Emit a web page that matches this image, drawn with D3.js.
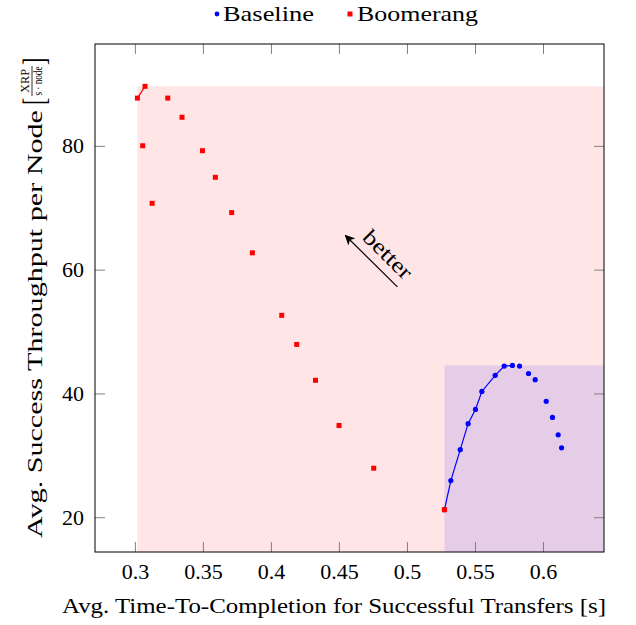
<!DOCTYPE html>
<html lang="en">
<head>
<meta charset="UTF-8">
<title>Baseline vs Boomerang</title>
<style>
    body {
        margin: 0;
        background: white;
    }

    svg text {
        font-family: "Liberation Serif", "DejaVu Serif", serif;
        fill: #000;
    }

    .tick-label {
        font-size: 22px;
    }

    .axis-label {
        font-size: 22px;
    }

    .legend-text {
        font-size: 22px;
    }

    .frac {
        font-size: 11.5px;
    }

    .tick {
        stroke: #808080;
        stroke-width: 1;
    }

    .frame {
        fill: none;
        stroke: #000;
        stroke-width: 1;
    }
</style>
</head>
<body>
<svg id="chart" width="636" height="625"></svg>

<script src="https://cdnjs.cloudflare.com/ajax/libs/d3/7.8.5/d3.min.js"></script>
<script>
    // data
    const baselineX = [0.5272, 0.5319, 0.5388, 0.5446, 0.5500, 0.5547, 0.5645, 0.5711, 0.5772, 0.5824, 0.5890, 0.5939, 0.6020, 0.6066, 0.6108, 0.6133];
    const baselineY = [21.3, 26.0, 31.0, 35.2, 37.5, 40.4, 43.0, 44.5, 44.6, 44.5, 43.3, 42.3, 38.8, 36.2, 33.4, 31.3];

    const boomerangX = [0.3015, 0.3071, 0.3054, 0.3238, 0.3123, 0.3343, 0.3493, 0.3588, 0.3708, 0.3860, 0.4076, 0.4186, 0.4324, 0.4497, 0.4752, 0.5272];
    const boomerangY = [87.8, 89.7, 80.1, 87.8, 70.8, 84.7, 79.3, 75.0, 69.3, 62.8, 52.7, 48.0, 42.2, 34.9, 28.0, 21.3];

    const xTicks = [0.3, 0.35, 0.4, 0.45, 0.5, 0.55, 0.6];
    const yTicks = [20, 40, 60, 80];

    const seriesNames = ["Baseline", "Boomerang"];
    const seriesColors = ["#0000ff", "#ff0000"];

    // "better" arrow, in data units
    const arrowFrom = [0.4926, 57.3];
    const arrowTo = [0.4544, 65.6];
    const arrowText = "better";

    const margin = { left: 95, right: 32, top: 44, bottom: 73 };
    const width = 636, height = 625;

    const svg = d3.select("#chart");

    const baseline = baselineX.map((x, i) => ({ x, y: baselineY[i] }));
    const boomerang = boomerangX.map((x, i) => ({ x, y: boomerangY[i] }));
    const all = baseline.concat(boomerang);

    // pgfplots style: enlarge limits by 10%
    function enlarged(vals) {
        const [lo, hi] = d3.extent(vals);
        const pad = (hi - lo) * 0.1;
        return [lo - pad, hi + pad];
    }

    const x = d3.scaleLinear()
        .domain(enlarged(all.map(d => d.x)))
        .range([margin.left, width - margin.right]);
    const y = d3.scaleLinear()
        .domain(enlarged(all.map(d => d.y)))
        .range([height - margin.bottom, margin.top]);

    const [x0, x1] = x.range();
    const [y0, y1] = y.range();

    // non dominated points (smaller x, larger y is better)
    function front(points) {
        const sorted = points.slice().sort((a, b) => a.x - b.x);
        const out = [];
        let best = -Infinity;
        sorted.forEach(p => {
            if (p.y > best) {
                out.push(p);
                best = p.y;
            }
        });
        return out;
    }

    const fronts = [front(baseline), front(boomerang)];

    svg.append("defs").append("clipPath").attr("id", "plot-clip")
        .append("rect")
        .attr("x", x0).attr("y", y1)
        .attr("width", x1 - x0).attr("height", y0 - y1);

    const plot = svg.append("g").attr("clip-path", "url(#plot-clip)");

    // dominated areas, boomerang first so the baseline one sits on top
    [1, 0].forEach(s => {
        const f = fronts[s];
        const left = x(d3.min(f, d => d.x));
        const top = y(d3.max(f, d => d.y));
        plot.append("rect")
            .attr("x", left)
            .attr("y", top)
            .attr("width", x1 - left)
            .attr("height", y0 - top)
            .attr("fill", seriesColors[s])
            .attr("fill-opacity", 0.1);
    });

    // ticks on all four sides, pointing inward
    const tickLen = 10;
    xTicks.forEach(t => {
        plot.append("line").attr("class", "tick")
            .attr("x1", x(t)).attr("x2", x(t))
            .attr("y1", y0).attr("y2", y0 - tickLen);
        plot.append("line").attr("class", "tick")
            .attr("x1", x(t)).attr("x2", x(t))
            .attr("y1", y1).attr("y2", y1 + tickLen);
        svg.append("text").attr("class", "tick-label")
            .attr("x", x(t)).attr("y", y0 + 27)
            .attr("text-anchor", "middle")
            .text(d3.format("")(t));
    });
    yTicks.forEach(t => {
        plot.append("line").attr("class", "tick")
            .attr("x1", x0).attr("x2", x0 + tickLen)
            .attr("y1", y(t)).attr("y2", y(t));
        plot.append("line").attr("class", "tick")
            .attr("x1", x1).attr("x2", x1 - tickLen)
            .attr("y1", y(t)).attr("y2", y(t));
        svg.append("text").attr("class", "tick-label")
            .attr("x", x0 - 11).attr("y", y(t) + 7)
            .attr("text-anchor", "end")
            .text(t);
    });

    // pareto lines
    const line = d3.line().x(d => x(d.x)).y(d => y(d.y));
    fronts.forEach((f, s) => {
        plot.append("path")
            .attr("d", line(f))
            .attr("fill", "none")
            .attr("stroke", seriesColors[s])
            .attr("stroke-width", 1.2);
    });

    // markers
    plot.selectAll(".pt-base").data(baseline).join("circle")
        .attr("cx", d => x(d.x))
        .attr("cy", d => y(d.y))
        .attr("r", 2.6)
        .attr("fill", seriesColors[0]);

    const sq = 5;
    plot.selectAll(".pt-boom").data(boomerang).join("rect")
        .attr("x", d => x(d.x) - sq / 2)
        .attr("y", d => y(d.y) - sq / 2)
        .attr("width", sq).attr("height", sq)
        .attr("fill", seriesColors[1]);

    // better arrow
    svg.select("defs").append("marker")
        .attr("id", "head")
        .attr("viewBox", "0 0 10 10")
        .attr("refX", 9).attr("refY", 5)
        .attr("markerWidth", 10).attr("markerHeight", 10)
        .attr("markerUnits", "userSpaceOnUse")
        .attr("orient", "auto")
        .append("path")
        .attr("d", "M0,0 L10,5 L0,10 L2.5,5 Z")
        .attr("fill", "#000");

    const ax1 = x(arrowFrom[0]), ay1 = y(arrowFrom[1]);
    const ax2 = x(arrowTo[0]), ay2 = y(arrowTo[1]);
    svg.append("line")
        .attr("x1", ax1).attr("y1", ay1)
        .attr("x2", ax2).attr("y2", ay2)
        .attr("stroke", "#000")
        .attr("stroke-width", 1.2)
        .attr("marker-end", "url(#head)");

    const ang = Math.atan2(ay1 - ay2, ax1 - ax2) * 180 / Math.PI;
    const mx = (ax1 + ax2) / 2, my = (ay1 + ay2) / 2;
    svg.append("text").attr("class", "axis-label")
        .attr("transform", `translate(${mx},${my}) rotate(${ang}) translate(7,-9)`)
        .attr("text-anchor", "middle")
        .attr("textLength", 60)
        .attr("lengthAdjust", "spacingAndGlyphs")
        .text(arrowText);

    // frame
    svg.append("rect").attr("class", "frame")
        .attr("x", x0).attr("y", y1)
        .attr("width", x1 - x0).attr("height", y0 - y1);

    // x label (stretched a bit to the width of the original serif face)
    svg.append("text").attr("class", "axis-label")
        .attr("x", 334).attr("y", 613)
        .attr("text-anchor", "middle")
        .attr("textLength", 544)
        .attr("lengthAdjust", "spacingAndGlyphs")
        .text("Avg. Time-To-Completion for Successful Transfers [s]");

    // y label with fraction unit
    const yl = svg.append("g");
    const mainW = 428;
    yl.append("text").attr("class", "axis-label")
        .attr("textLength", mainW)
        .attr("lengthAdjust", "spacingAndGlyphs")
        .text("Avg. Success Throughput per Node");
    let cx = mainW + 5;
    yl.append("text").attr("class", "axis-label")
        .attr("x", cx).attr("y", 3)
        .attr("transform", `translate(0,3) scale(1,1.45) translate(0,-3)`)
        .text("[");
    cx += 9;
    const fw = 30;
    yl.append("text").attr("class", "frac")
        .attr("x", cx + fw / 2).attr("y", -13)
        .attr("text-anchor", "middle")
        .attr("textLength", 24)
        .attr("lengthAdjust", "spacingAndGlyphs")
        .text("XRP");
    yl.append("text").attr("class", "frac")
        .attr("x", cx + fw / 2).attr("y", 0)
        .attr("text-anchor", "middle")
        .attr("textLength", 29)
        .attr("lengthAdjust", "spacingAndGlyphs")
        .text("s · node");
    yl.append("line")
        .attr("x1", cx).attr("x2", cx + fw)
        .attr("y1", -10).attr("y2", -10)
        .attr("stroke", "#000").attr("stroke-width", 0.8);
    cx += fw + 1;
    yl.append("text").attr("class", "axis-label")
        .attr("x", cx).attr("y", 3)
        .attr("transform", `translate(0,3) scale(1,1.45) translate(0,-3)`)
        .text("]");
    const total = cx + 7;
    yl.attr("transform", `translate(42,${(y0 + y1) / 2}) rotate(-90) translate(${-total / 2},0)`);

    // legend
    const legendItems = [
        { name: seriesNames[0], color: seriesColors[0], mx: 217, tx: 223, len: 91, shape: "circle" },
        { name: seriesNames[1], color: seriesColors[1], mx: 350, tx: 357, len: 121, shape: "square" }
    ];
    legendItems.forEach(d => {
        if (d.shape === "circle") {
            svg.append("circle").attr("cx", d.mx).attr("cy", 14).attr("r", 2.4).attr("fill", d.color);
        } else {
            svg.append("rect").attr("x", d.mx - 2.5).attr("y", 11.5).attr("width", 5).attr("height", 5).attr("fill", d.color);
        }
        svg.append("text").attr("class", "legend-text")
            .attr("x", d.tx).attr("y", 21)
            .attr("textLength", d.len)
            .attr("lengthAdjust", "spacingAndGlyphs")
            .text(d.name);
    });
</script>
</body>
</html>
